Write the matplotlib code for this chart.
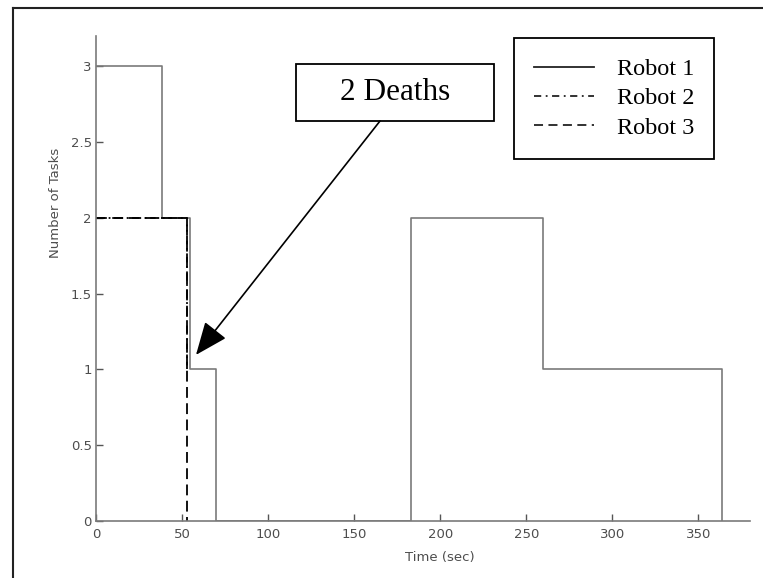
import matplotlib
matplotlib.use("Agg")
import matplotlib.pyplot as plt
from matplotlib.lines import Line2D
from matplotlib.patches import Rectangle

# ---- data ----
robot1_time = [0, 38.5, 54.7, 70, 183, 260, 364]
robot1_tasks = [3, 2, 1, 0, 2, 1, 0]
robot2_time = [0, 53]
robot2_tasks = [2, 1]
robot3_time = [0, 52.8]
robot3_tasks = [2, 0]
series_labels = ["Robot 1", "Robot 2", "Robot 3"]
x_ticks = [0, 50, 100, 150, 200, 250, 300, 350]
y_ticks = [0, 0.5, 1, 1.5, 2, 2.5, 3]
y_tick_labels = ["0", "0.5", "1", "1.5", "2", "2.5", "3"]
annotation_text = "2 Deaths"
annotation_target = (58.1, 1.096)

W, H = 763, 578
fig = plt.figure(figsize=(W / 100, H / 100), dpi=100)
ax = fig.add_axes([96 / W, (H - 521) / H, 654 / W, 485 / H])

grey = "#7a7a7a"
ax.plot(robot1_time, robot1_tasks, drawstyle="steps-post", color=grey, lw=1.2)
ax.plot(robot2_time, robot2_tasks, drawstyle="steps-post", color="black", lw=1.3,
        linestyle=(0, (5, 2, 1, 2)))
ax.plot(robot3_time, robot3_tasks, drawstyle="steps-post", color="black", lw=1.3,
        linestyle=(0, (6, 3)))

ax.set_xlim(0, 380)
ax.set_ylim(0, 3.2)
ax.set_xticks(x_ticks)
ax.set_xticklabels([str(t) for t in x_ticks])
ax.set_yticks(y_ticks)
ax.set_yticklabels(y_tick_labels)
for s in ["top", "right"]:
    ax.spines[s].set_visible(False)
for s in ["left", "bottom"]:
    ax.spines[s].set_color(grey)
    ax.spines[s].set_linewidth(1.2)
txt_col = "#4d4d4d"
ax.tick_params(direction="in", length=5, width=1.0, color="#555555",
               labelsize=9.5, labelcolor=txt_col)
ax.tick_params(axis="x", pad=5)
ax.tick_params(axis="y", pad=3)
ax.set_xlabel("Time (sec)", fontsize=9.5, color=txt_col)
ax.xaxis.set_label_coords((440 - 96) / 654, -(551 - 521) / 485)
ax.set_ylabel("Number of Tasks", fontsize=9.5, color=txt_col)
ax.yaxis.set_label_coords((62 - 96) / 654, (521 - 203) / 485)

# legend
handles = [
    Line2D([], [], color="#222222", lw=1.3),
    Line2D([], [], color="#222222", lw=1.3, linestyle=(0, (4, 2.5, 1, 2.5))),
    Line2D([], [], color="#222222", lw=1.3, linestyle=(0, (5, 3))),
]
leg = ax.legend(handles, series_labels, loc="upper left",
                bbox_to_anchor=(514 / W, 1 - 38 / H), bbox_transform=fig.transFigure,
                prop={"family": "Liberation Serif", "size": 17.5},
                frameon=True, fancybox=False, edgecolor="black", framealpha=1,
                handlelength=2.45, handletextpad=0.95, labelspacing=0.3,
                borderpad=0.83, borderaxespad=0)
leg.get_frame().set_linewidth(1.3)

# annotation box
fig.add_artist(Rectangle((296 / W, 1 - 121 / H), (494 - 296) / W, (121 - 64) / H,
                         transform=fig.transFigure, fill=False, edgecolor="black", lw=1.3))
fig.text(395 / W, 1 - 92 / H, annotation_text, ha="center", va="center",
         family="Liberation Serif", fontsize=22.5)
ax.annotate("", xy=annotation_target, xycoords="data",
            xytext=(380, H - 121), textcoords="figure pixels",
            arrowprops=dict(arrowstyle="-|>,head_length=1.7,head_width=0.7",
                            color="black", lw=1.2, shrinkA=0, shrinkB=0,
                            mutation_scale=12))

# outer frame (top and left edges)
fig.add_artist(Line2D([13 / W, 1], [1 - 8 / H, 1 - 8 / H], transform=fig.transFigure,
                      color="#222222", lw=1.5))
fig.add_artist(Line2D([13 / W, 13 / W], [0, 1 - 8 / H], transform=fig.transFigure,
                      color="#222222", lw=1.5))

fig.savefig("out.png", dpi=100)
